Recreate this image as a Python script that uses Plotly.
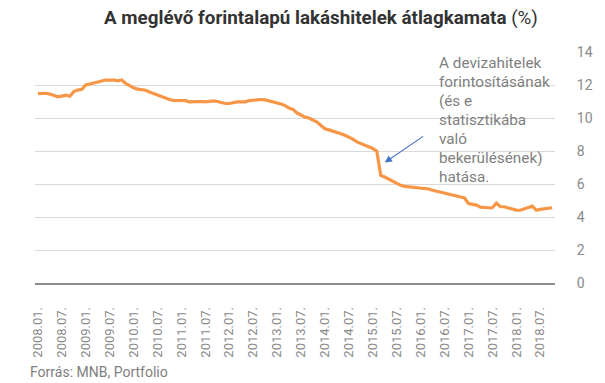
import plotly.graph_objects as go

# ---- data ----
years = list(range(2008, 2019))
months = [f"{m:02d}" for m in range(1, 13)]
categories = [f"{y}.{m}." for y in years for m in months][:130]  # 2008.01 – 2018.10

rate_2008 = [11.48, 11.49, 11.50, 11.45, 11.35, 11.28, 11.33, 11.38, 11.32, 11.60, 11.70, 11.73]
rate_2009 = [12.00, 12.05, 12.15, 12.20, 12.25, 12.30, 12.30, 12.30, 12.25, 12.30, 12.10, 11.95]
rate_2010 = [11.83, 11.75, 11.72, 11.68, 11.58, 11.48, 11.38, 11.27, 11.20, 11.12, 11.07, 11.06]
rate_2011 = [11.06, 11.05, 10.98, 11.00, 11.02, 11.00, 10.98, 11.02, 11.04, 11.00, 10.94, 10.88]
rate_2012 = [10.88, 10.95, 10.98, 10.98, 10.98, 11.05, 11.08, 11.10, 11.12, 11.10, 11.04, 11.02]
rate_2013 = [10.95, 10.85, 10.75, 10.60, 10.52, 10.30, 10.18, 10.05, 10.00, 9.90, 9.75, 9.55]
rate_2014 = [9.35, 9.28, 9.22, 9.15, 9.05, 8.95, 8.85, 8.72, 8.55, 8.45, 8.35, 8.22]
rate_2015 = [8.15, 7.99, 6.52, 6.42, 6.30, 6.15, 6.02, 5.92, 5.86, 5.83, 5.80, 5.78]
rate_2016 = [5.77, 5.74, 5.70, 5.62, 5.57, 5.50, 5.43, 5.37, 5.32, 5.27, 5.21, 5.15]
rate_2017 = [4.82, 4.78, 4.72, 4.60, 4.56, 4.56, 4.56, 4.84, 4.62, 4.62, 4.55, 4.48]
rate_2018 = [4.42, 4.41, 4.52, 4.58, 4.66, 4.41, 4.46, 4.50, 4.52, 4.56]

rates = (rate_2008 + rate_2009 + rate_2010 + rate_2011 + rate_2012 + rate_2013
         + rate_2014 + rate_2015 + rate_2016 + rate_2017 + rate_2018)

tick_labels = [c for c in categories if c.split(".")[1] in ("01", "07")]
y_ticks = [0, 2, 4, 6, 8, 10, 12, 14]

title_text = "A meglévő forintalapú lakáshitelek átlagkamata"
title_unit = "(%)"
note_lines = ["A devizahitelek", "forintosításának", "(és e", "statisztikába",
              "való", "bekerülésének)", "hatása."]
source_text = "Forrás: MNB, Portfolio"

FONT = "Roboto, 'Noto Sans', sans-serif"
GRAY = "#8a8a8a"

# the page adds an 8px body margin, so the figure is drawn 8px smaller and
# all reference pixel positions are shifted by -8
OFF = 8
W, H = 605 - OFF, 383 - OFF
PL, PR, PT, PB = 35 - OFF, 568 - OFF, 52 - OFF, 283.5 - OFF


def px_x(x):
    return (x - OFF - PL) / (PR - PL)


fig = go.Figure()
fig.add_trace(go.Scatter(
    x=categories, y=rates, mode="lines",
    line=dict(color="#f79646", width=3.2),
    hoverinfo="x+y", showlegend=False,
))

fig.update_layout(
    width=W, height=H,
    margin=dict(l=PL, r=W - PR, t=PT, b=H - PB),
    paper_bgcolor="white", plot_bgcolor="white",
    font=dict(family=FONT, color=GRAY),
    xaxis=dict(
        type="category", categoryorder="array", categoryarray=categories,
        range=[-0.73, 129.7],
        tickmode="array", tickvals=tick_labels, ticktext=tick_labels,
        tickangle=-90, tickfont=dict(size=13, color=GRAY),
        showgrid=False, showline=True, linecolor="#8c8c8c", linewidth=1.5,
        ticks="outside", ticklen=17, tickcolor="rgba(0,0,0,0)",
        zeroline=False,
    ),
    yaxis=dict(
        side="right", range=[0, 14], tickvals=y_ticks,
        tickfont=dict(size=14, color=GRAY),
        showgrid=True, gridcolor="#d9d9d9", gridwidth=1,
        zeroline=False, showline=False,
        ticks="outside", ticklen=18, tickcolor="rgba(0,0,0,0)",
    ),
)

# title
fig.add_annotation(
    text=f"<b>{title_text}</b> {title_unit}", xref="paper", yref="paper",
    x=px_x(328), y=1, yshift=PT - (18 - OFF), xanchor="center", yanchor="middle",
    showarrow=False, font=dict(family=FONT, size=18.8, color="#333333"),
)

# explanatory note, one line per annotation
for i, line in enumerate(note_lines):
    fig.add_annotation(
        text=line, xref="paper", yref="paper",
        x=px_x(447), y=1, yshift=-(63 - 52) - 19 * i,
        xanchor="left", yanchor="middle", showarrow=False,
        font=dict(family=FONT, size=15.3, color="#808080"),
    )

# arrow
fig.add_annotation(
    x=categories[87], y=7.3, ax=categories[97], ay=8.95,
    xref="x", yref="y", axref="x", ayref="y",
    text="", showarrow=True, arrowhead=2, arrowsize=1.3, arrowwidth=1.1,
    arrowcolor="#4472c4", standoff=0,
)

# source
fig.add_annotation(
    text=source_text, xref="paper", yref="paper",
    x=px_x(28), y=0, yshift=-(372 - 283.5),
    xanchor="left", yanchor="middle", showarrow=False,
    font=dict(family=FONT, size=14, color="#808080"),
)

fig.write_html("out.html")
